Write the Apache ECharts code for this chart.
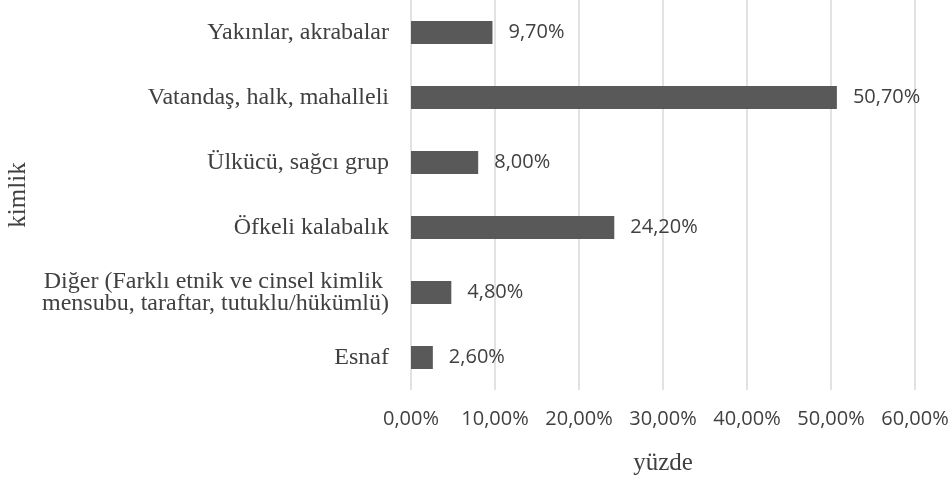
<!DOCTYPE html>
<html>
<head>
  <meta charset="UTF-8">
  <title>kimlik - yüzde</title>
  <script src="https://cdn.jsdelivr.net/npm/echarts@6/dist/echarts.min.js"></script>
  <style>
    html, body { margin: 0; padding: 0; background: #fff; }
  </style>
</head>
<body>
  <div id="chart" style="width: 952px; height: 483px"></div>
  <script>
    // veriler (yukarıdan aşağıya)
    const categories = [
      'Yakınlar, akrabalar',
      'Vatandaş, halk, mahalleli',
      'Ülkücü, sağcı grup',
      'Öfkeli kalabalık',
      'Diğer (Farklı etnik ve cinsel kimlik \nmensubu, taraftar, tutuklu/hükümlü)',
      'Esnaf'
    ];
    const values = [9.7, 50.7, 8.0, 24.2, 4.8, 2.6];
    const xTicks = [0, 10, 20, 30, 40, 50, 60];

    const fmt = v => v.toFixed(2).replace('.', ',') + '%';

    const chart = echarts.init(document.getElementById('chart'));
    const option = {
      animation: false,
      grid: { left: 411, right: 37, top: 0, height: 390, outerBoundsMode: 'none' },
      xAxis: {
        type: 'value',
        min: xTicks[0],
        max: xTicks[xTicks.length - 1],
        interval: 10,
        name: 'yüzde',
        nameLocation: 'middle',
        nameGap: 61,
        nameTextStyle: { fontFamily: 'Liberation Serif', fontSize: 25, color: '#404040' },
        axisLine: { show: false },
        axisTick: { show: false },
        axisLabel: {
          formatter: fmt,
          margin: 19,
          fontFamily: 'Open Sans',
          fontSize: 20,
          color: '#404040'
        },
        splitLine: { lineStyle: { color: '#d9d9d9', width: 1.5 } }
      },
      yAxis: {
        type: 'category',
        inverse: true,
        data: categories,
        name: 'kimlik',
        nameLocation: 'middle',
        nameGap: 377,
        nameRotate: 90,
        nameTextStyle: { fontFamily: 'Liberation Serif', fontSize: 25, color: '#404040' },
        axisLine: { show: false },
        axisTick: { show: false },
        axisLabel: {
          margin: 22,
          fontFamily: 'Liberation Serif',
          fontSize: 24,
          lineHeight: 22,
          color: '#404040'
        }
      },
      series: [{
        type: 'bar',
        data: values,
        barWidth: 23,
        itemStyle: { color: '#595959' },
        label: {
          show: true,
          position: 'right',
          distance: 16,
          formatter: p => fmt(p.value),
          fontFamily: 'Open Sans',
          fontSize: 20,
          color: '#404040'
        }
      }]
    };
    chart.setOption(option);
  </script>
</body>
</html>
